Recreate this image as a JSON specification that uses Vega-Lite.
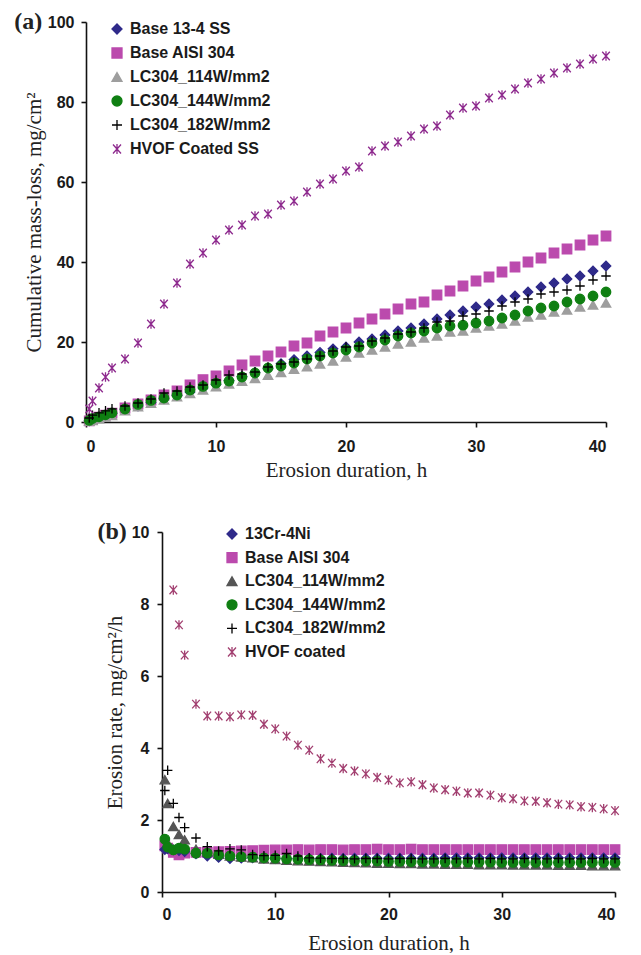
{
 "$schema": "https://vega.github.io/schema/vega-lite/v6.json",
 "background": "white",
 "padding": {"left": 14, "top": 10, "right": 5, "bottom": 0},
 "spacing": 40,
 "resolve": {"scale": {"color": "independent", "stroke": "independent", "shape": "independent", "y": "independent"}, "legend": {"color": "independent", "stroke": "independent", "shape": "independent"}},
 "config": {
  "view": {"stroke": null},
  "axis": {"grid": false, "domainColor": "#111111", "domainWidth": 1.6, "tickColor": "#111111", "tickWidth": 1.6, "tickSize": 5,
   "labelFont": "Liberation Sans", "labelFontWeight": "bold", "labelFontSize": 16, "labelColor": "#1a1a1a",
   "titleFont": "Liberation Serif", "titleFontWeight": "normal", "titleFontSize": 21, "titleColor": "#222222"},
  "legend": {"labelFont": "Liberation Sans", "labelFontWeight": "bold", "labelFontSize": 16, "labelColor": "#1a1a1a", "padding": 0, "symbolStrokeWidth": 1.3, "symbolSize": 100, "labelOffset": 5, "symbolOpacity": 1}
 },
 "datasets": {
  "top": [
   {"t":0.25,"v":0.3,"s":"Base AISI 304"},{"t":0.5,"v":0.6,"s":"Base AISI 304"},{"t":1,"v":1.2,"s":"Base AISI 304"},{"t":1.5,"v":1.7,"s":"Base AISI 304"},{"t":2,"v":2.2,"s":"Base AISI 304"},{"t":3,"v":3.5,"s":"Base AISI 304"},{"t":4,"v":4.5,"s":"Base AISI 304"},{"t":5,"v":5.5,"s":"Base AISI 304"},{"t":6,"v":6.75,"s":"Base AISI 304"},{"t":7,"v":7.75,"s":"Base AISI 304"},{"t":8,"v":9.3,"s":"Base AISI 304"},{"t":9,"v":10.6,"s":"Base AISI 304"},{"t":10,"v":11.5,"s":"Base AISI 304"},{"t":11,"v":12.75,"s":"Base AISI 304"},{"t":12,"v":14.25,"s":"Base AISI 304"},{"t":13,"v":15.25,"s":"Base AISI 304"},{"t":14,"v":16.5,"s":"Base AISI 304"},{"t":15,"v":17.5,"s":"Base AISI 304"},{"t":16,"v":19,"s":"Base AISI 304"},{"t":17,"v":19.75,"s":"Base AISI 304"},{"t":18,"v":21.5,"s":"Base AISI 304"},{"t":19,"v":22.5,"s":"Base AISI 304"},{"t":20,"v":23.5,"s":"Base AISI 304"},{"t":21,"v":24.75,"s":"Base AISI 304"},{"t":22,"v":25.75,"s":"Base AISI 304"},{"t":23,"v":27,"s":"Base AISI 304"},{"t":24,"v":28.25,"s":"Base AISI 304"},{"t":25,"v":29.5,"s":"Base AISI 304"},{"t":26,"v":30,"s":"Base AISI 304"},{"t":27,"v":31.75,"s":"Base AISI 304"},{"t":28,"v":32.75,"s":"Base AISI 304"},{"t":29,"v":34,"s":"Base AISI 304"},{"t":30,"v":35.25,"s":"Base AISI 304"},{"t":31,"v":36.25,"s":"Base AISI 304"},{"t":32,"v":37.5,"s":"Base AISI 304"},{"t":33,"v":38.75,"s":"Base AISI 304"},{"t":34,"v":40,"s":"Base AISI 304"},{"t":35,"v":41,"s":"Base AISI 304"},{"t":36,"v":42.25,"s":"Base AISI 304"},{"t":37,"v":43.25,"s":"Base AISI 304"},{"t":38,"v":44.25,"s":"Base AISI 304"},{"t":39,"v":45.5,"s":"Base AISI 304"},{"t":40,"v":46.5,"s":"Base AISI 304"},
   {"t":0.25,"v":0.3,"s":"Base 13-4 SS"},{"t":0.5,"v":0.6,"s":"Base 13-4 SS"},{"t":1,"v":1.1,"s":"Base 13-4 SS"},{"t":1.5,"v":1.6,"s":"Base 13-4 SS"},{"t":2,"v":2.1,"s":"Base 13-4 SS"},{"t":3,"v":3.2,"s":"Base 13-4 SS"},{"t":4,"v":4.0,"s":"Base 13-4 SS"},{"t":5,"v":4.9,"s":"Base 13-4 SS"},{"t":6,"v":5.8,"s":"Base 13-4 SS"},{"t":7,"v":6.6,"s":"Base 13-4 SS"},{"t":8,"v":7.5,"s":"Base 13-4 SS"},{"t":9,"v":8.5,"s":"Base 13-4 SS"},{"t":10,"v":9.4,"s":"Base 13-4 SS"},{"t":11,"v":10.4,"s":"Base 13-4 SS"},{"t":12,"v":11.4,"s":"Base 13-4 SS"},{"t":13,"v":12.4,"s":"Base 13-4 SS"},{"t":14,"v":13.3,"s":"Base 13-4 SS"},{"t":15,"v":14.6,"s":"Base 13-4 SS"},{"t":16,"v":15.6,"s":"Base 13-4 SS"},{"t":17,"v":16.5,"s":"Base 13-4 SS"},{"t":18,"v":17.4,"s":"Base 13-4 SS"},{"t":19,"v":18.3,"s":"Base 13-4 SS"},{"t":20,"v":18.75,"s":"Base 13-4 SS"},{"t":21,"v":20,"s":"Base 13-4 SS"},{"t":22,"v":20.75,"s":"Base 13-4 SS"},{"t":23,"v":21.75,"s":"Base 13-4 SS"},{"t":24,"v":22.75,"s":"Base 13-4 SS"},{"t":25,"v":23.5,"s":"Base 13-4 SS"},{"t":26,"v":24.5,"s":"Base 13-4 SS"},{"t":27,"v":25.75,"s":"Base 13-4 SS"},{"t":28,"v":26.75,"s":"Base 13-4 SS"},{"t":29,"v":27.75,"s":"Base 13-4 SS"},{"t":30,"v":28.75,"s":"Base 13-4 SS"},{"t":31,"v":29.5,"s":"Base 13-4 SS"},{"t":32,"v":30.5,"s":"Base 13-4 SS"},{"t":33,"v":31.5,"s":"Base 13-4 SS"},{"t":34,"v":32.5,"s":"Base 13-4 SS"},{"t":35,"v":33.75,"s":"Base 13-4 SS"},{"t":36,"v":34.75,"s":"Base 13-4 SS"},{"t":37,"v":35.75,"s":"Base 13-4 SS"},{"t":38,"v":36.5,"s":"Base 13-4 SS"},{"t":39,"v":37.75,"s":"Base 13-4 SS"},{"t":40,"v":39,"s":"Base 13-4 SS"},
   {"t":0.25,"v":0.2,"s":"LC304_114W/mm2"},{"t":0.5,"v":0.4,"s":"LC304_114W/mm2"},{"t":1,"v":0.8,"s":"LC304_114W/mm2"},{"t":1.5,"v":1.2,"s":"LC304_114W/mm2"},{"t":2,"v":1.6,"s":"LC304_114W/mm2"},{"t":3,"v":2.8,"s":"LC304_114W/mm2"},{"t":4,"v":3.8,"s":"LC304_114W/mm2"},{"t":5,"v":4.7,"s":"LC304_114W/mm2"},{"t":6,"v":5.5,"s":"LC304_114W/mm2"},{"t":7,"v":6.3,"s":"LC304_114W/mm2"},{"t":8,"v":7.1,"s":"LC304_114W/mm2"},{"t":9,"v":8.0,"s":"LC304_114W/mm2"},{"t":10,"v":8.8,"s":"LC304_114W/mm2"},{"t":11,"v":9.5,"s":"LC304_114W/mm2"},{"t":12,"v":10.2,"s":"LC304_114W/mm2"},{"t":13,"v":10.9,"s":"LC304_114W/mm2"},{"t":14,"v":11.7,"s":"LC304_114W/mm2"},{"t":15,"v":12.4,"s":"LC304_114W/mm2"},{"t":16,"v":13.2,"s":"LC304_114W/mm2"},{"t":17,"v":13.8,"s":"LC304_114W/mm2"},{"t":18,"v":14.5,"s":"LC304_114W/mm2"},{"t":19,"v":15.25,"s":"LC304_114W/mm2"},{"t":20,"v":16.25,"s":"LC304_114W/mm2"},{"t":21,"v":17.25,"s":"LC304_114W/mm2"},{"t":22,"v":18,"s":"LC304_114W/mm2"},{"t":23,"v":18.75,"s":"LC304_114W/mm2"},{"t":24,"v":19.5,"s":"LC304_114W/mm2"},{"t":25,"v":20,"s":"LC304_114W/mm2"},{"t":26,"v":21,"s":"LC304_114W/mm2"},{"t":27,"v":21.5,"s":"LC304_114W/mm2"},{"t":28,"v":22.5,"s":"LC304_114W/mm2"},{"t":29,"v":22.75,"s":"LC304_114W/mm2"},{"t":30,"v":23.5,"s":"LC304_114W/mm2"},{"t":31,"v":24,"s":"LC304_114W/mm2"},{"t":32,"v":24.5,"s":"LC304_114W/mm2"},{"t":33,"v":25.25,"s":"LC304_114W/mm2"},{"t":34,"v":26.25,"s":"LC304_114W/mm2"},{"t":35,"v":26.75,"s":"LC304_114W/mm2"},{"t":36,"v":27.5,"s":"LC304_114W/mm2"},{"t":37,"v":28,"s":"LC304_114W/mm2"},{"t":38,"v":28.75,"s":"LC304_114W/mm2"},{"t":39,"v":29.25,"s":"LC304_114W/mm2"},{"t":40,"v":29.75,"s":"LC304_114W/mm2"},
   {"t":0.25,"v":0.4,"s":"LC304_144W/mm2"},{"t":0.5,"v":0.9,"s":"LC304_144W/mm2"},{"t":1,"v":1.3,"s":"LC304_144W/mm2"},{"t":1.5,"v":1.8,"s":"LC304_144W/mm2"},{"t":2,"v":2.3,"s":"LC304_144W/mm2"},{"t":3,"v":3.25,"s":"LC304_144W/mm2"},{"t":4,"v":4.4,"s":"LC304_144W/mm2"},{"t":5,"v":5.4,"s":"LC304_144W/mm2"},{"t":6,"v":6.0,"s":"LC304_144W/mm2"},{"t":7,"v":6.75,"s":"LC304_144W/mm2"},{"t":8,"v":8.0,"s":"LC304_144W/mm2"},{"t":9,"v":8.9,"s":"LC304_144W/mm2"},{"t":10,"v":9.7,"s":"LC304_144W/mm2"},{"t":11,"v":10.25,"s":"LC304_144W/mm2"},{"t":12,"v":11.25,"s":"LC304_144W/mm2"},{"t":13,"v":12.25,"s":"LC304_144W/mm2"},{"t":14,"v":13.5,"s":"LC304_144W/mm2"},{"t":15,"v":14.0,"s":"LC304_144W/mm2"},{"t":16,"v":14.75,"s":"LC304_144W/mm2"},{"t":17,"v":15.75,"s":"LC304_144W/mm2"},{"t":18,"v":16.5,"s":"LC304_144W/mm2"},{"t":19,"v":17.25,"s":"LC304_144W/mm2"},{"t":20,"v":18,"s":"LC304_144W/mm2"},{"t":21,"v":18.75,"s":"LC304_144W/mm2"},{"t":22,"v":19.75,"s":"LC304_144W/mm2"},{"t":23,"v":20.5,"s":"LC304_144W/mm2"},{"t":24,"v":21.5,"s":"LC304_144W/mm2"},{"t":25,"v":22.25,"s":"LC304_144W/mm2"},{"t":26,"v":22.75,"s":"LC304_144W/mm2"},{"t":27,"v":23.5,"s":"LC304_144W/mm2"},{"t":28,"v":24,"s":"LC304_144W/mm2"},{"t":29,"v":24.2,"s":"LC304_144W/mm2"},{"t":30,"v":24.75,"s":"LC304_144W/mm2"},{"t":31,"v":25.25,"s":"LC304_144W/mm2"},{"t":32,"v":26,"s":"LC304_144W/mm2"},{"t":33,"v":26.75,"s":"LC304_144W/mm2"},{"t":34,"v":27.75,"s":"LC304_144W/mm2"},{"t":35,"v":28.5,"s":"LC304_144W/mm2"},{"t":36,"v":29,"s":"LC304_144W/mm2"},{"t":37,"v":30,"s":"LC304_144W/mm2"},{"t":38,"v":30.75,"s":"LC304_144W/mm2"},{"t":39,"v":31.5,"s":"LC304_144W/mm2"},{"t":40,"v":32.5,"s":"LC304_144W/mm2"},
   {"t":0.25,"v":1.0,"s":"LC304_182W/mm2"},{"t":0.5,"v":1.7,"s":"LC304_182W/mm2"},{"t":1,"v":2.3,"s":"LC304_182W/mm2"},{"t":1.5,"v":2.8,"s":"LC304_182W/mm2"},{"t":2,"v":3.3,"s":"LC304_182W/mm2"},{"t":3,"v":4.0,"s":"LC304_182W/mm2"},{"t":4,"v":4.75,"s":"LC304_182W/mm2"},{"t":5,"v":5.75,"s":"LC304_182W/mm2"},{"t":6,"v":7.25,"s":"LC304_182W/mm2"},{"t":7,"v":7.75,"s":"LC304_182W/mm2"},{"t":8,"v":8.75,"s":"LC304_182W/mm2"},{"t":9,"v":9.25,"s":"LC304_182W/mm2"},{"t":10,"v":10.5,"s":"LC304_182W/mm2"},{"t":11,"v":11.75,"s":"LC304_182W/mm2"},{"t":12,"v":12,"s":"LC304_182W/mm2"},{"t":13,"v":12.5,"s":"LC304_182W/mm2"},{"t":14,"v":13.75,"s":"LC304_182W/mm2"},{"t":15,"v":14.5,"s":"LC304_182W/mm2"},{"t":16,"v":15,"s":"LC304_182W/mm2"},{"t":17,"v":15.75,"s":"LC304_182W/mm2"},{"t":18,"v":16.5,"s":"LC304_182W/mm2"},{"t":19,"v":17.75,"s":"LC304_182W/mm2"},{"t":20,"v":18.75,"s":"LC304_182W/mm2"},{"t":21,"v":19,"s":"LC304_182W/mm2"},{"t":22,"v":20.25,"s":"LC304_182W/mm2"},{"t":23,"v":21,"s":"LC304_182W/mm2"},{"t":24,"v":22,"s":"LC304_182W/mm2"},{"t":25,"v":22.5,"s":"LC304_182W/mm2"},{"t":26,"v":23.5,"s":"LC304_182W/mm2"},{"t":27,"v":25,"s":"LC304_182W/mm2"},{"t":28,"v":25.25,"s":"LC304_182W/mm2"},{"t":29,"v":26.5,"s":"LC304_182W/mm2"},{"t":30,"v":27,"s":"LC304_182W/mm2"},{"t":31,"v":27.75,"s":"LC304_182W/mm2"},{"t":32,"v":29,"s":"LC304_182W/mm2"},{"t":33,"v":30,"s":"LC304_182W/mm2"},{"t":34,"v":30.75,"s":"LC304_182W/mm2"},{"t":35,"v":32,"s":"LC304_182W/mm2"},{"t":36,"v":32.5,"s":"LC304_182W/mm2"},{"t":37,"v":33,"s":"LC304_182W/mm2"},{"t":38,"v":34,"s":"LC304_182W/mm2"},{"t":39,"v":35.5,"s":"LC304_182W/mm2"},{"t":40,"v":36.5,"s":"LC304_182W/mm2"},
   {"t":0.25,"v":3.25,"s":"HVOF Coated SS"},{"t":0.5,"v":5.25,"s":"HVOF Coated SS"},{"t":1,"v":8.5,"s":"HVOF Coated SS"},{"t":1.5,"v":11.25,"s":"HVOF Coated SS"},{"t":2,"v":13.5,"s":"HVOF Coated SS"},{"t":3,"v":15.75,"s":"HVOF Coated SS"},{"t":4,"v":19.75,"s":"HVOF Coated SS"},{"t":5,"v":24.5,"s":"HVOF Coated SS"},{"t":6,"v":29.5,"s":"HVOF Coated SS"},{"t":7,"v":34.75,"s":"HVOF Coated SS"},{"t":8,"v":39.5,"s":"HVOF Coated SS"},{"t":9,"v":42.25,"s":"HVOF Coated SS"},{"t":10,"v":45.5,"s":"HVOF Coated SS"},{"t":11,"v":48,"s":"HVOF Coated SS"},{"t":12,"v":49.25,"s":"HVOF Coated SS"},{"t":13,"v":51.5,"s":"HVOF Coated SS"},{"t":14,"v":52,"s":"HVOF Coated SS"},{"t":15,"v":54.25,"s":"HVOF Coated SS"},{"t":16,"v":55.25,"s":"HVOF Coated SS"},{"t":17,"v":57.5,"s":"HVOF Coated SS"},{"t":18,"v":59.5,"s":"HVOF Coated SS"},{"t":19,"v":60.75,"s":"HVOF Coated SS"},{"t":20,"v":62.75,"s":"HVOF Coated SS"},{"t":21,"v":63.75,"s":"HVOF Coated SS"},{"t":22,"v":67.75,"s":"HVOF Coated SS"},{"t":23,"v":69,"s":"HVOF Coated SS"},{"t":24,"v":70,"s":"HVOF Coated SS"},{"t":25,"v":71.5,"s":"HVOF Coated SS"},{"t":26,"v":73.25,"s":"HVOF Coated SS"},{"t":27,"v":74,"s":"HVOF Coated SS"},{"t":28,"v":76.75,"s":"HVOF Coated SS"},{"t":29,"v":78.5,"s":"HVOF Coated SS"},{"t":30,"v":79,"s":"HVOF Coated SS"},{"t":31,"v":81,"s":"HVOF Coated SS"},{"t":32,"v":81.75,"s":"HVOF Coated SS"},{"t":33,"v":83.25,"s":"HVOF Coated SS"},{"t":34,"v":84.75,"s":"HVOF Coated SS"},{"t":35,"v":85.75,"s":"HVOF Coated SS"},{"t":36,"v":87.25,"s":"HVOF Coated SS"},{"t":37,"v":88.5,"s":"HVOF Coated SS"},{"t":38,"v":89.5,"s":"HVOF Coated SS"},{"t":39,"v":90.75,"s":"HVOF Coated SS"},{"t":40,"v":91.5,"s":"HVOF Coated SS"}
  ],
  "bottom": [
   {"t":0.25,"v":1.28,"s":"Base AISI 304"},{"t":0.5,"v":1.22,"s":"Base AISI 304"},{"t":1,"v":1.1,"s":"Base AISI 304"},{"t":1.5,"v":1.03,"s":"Base AISI 304"},{"t":2,"v":1.08,"s":"Base AISI 304"},{"t":3,"v":1.1,"s":"Base AISI 304"},{"t":4,"v":1.1,"s":"Base AISI 304"},{"t":5,"v":1.12,"s":"Base AISI 304"},{"t":6,"v":1.13,"s":"Base AISI 304"},{"t":7,"v":1.14,"s":"Base AISI 304"},{"t":8,"v":1.15,"s":"Base AISI 304"},{"t":9,"v":1.16,"s":"Base AISI 304"},{"t":10,"v":1.17,"s":"Base AISI 304"},{"t":11,"v":1.17,"s":"Base AISI 304"},{"t":12,"v":1.18,"s":"Base AISI 304"},{"t":13,"v":1.17,"s":"Base AISI 304"},{"t":14,"v":1.18,"s":"Base AISI 304"},{"t":15,"v":1.18,"s":"Base AISI 304"},{"t":16,"v":1.17,"s":"Base AISI 304"},{"t":17,"v":1.18,"s":"Base AISI 304"},{"t":18,"v":1.18,"s":"Base AISI 304"},{"t":19,"v":1.19,"s":"Base AISI 304"},{"t":20,"v":1.18,"s":"Base AISI 304"},{"t":21,"v":1.18,"s":"Base AISI 304"},{"t":22,"v":1.19,"s":"Base AISI 304"},{"t":23,"v":1.18,"s":"Base AISI 304"},{"t":24,"v":1.18,"s":"Base AISI 304"},{"t":25,"v":1.18,"s":"Base AISI 304"},{"t":26,"v":1.18,"s":"Base AISI 304"},{"t":27,"v":1.18,"s":"Base AISI 304"},{"t":28,"v":1.18,"s":"Base AISI 304"},{"t":29,"v":1.18,"s":"Base AISI 304"},{"t":30,"v":1.18,"s":"Base AISI 304"},{"t":31,"v":1.18,"s":"Base AISI 304"},{"t":32,"v":1.18,"s":"Base AISI 304"},{"t":33,"v":1.18,"s":"Base AISI 304"},{"t":34,"v":1.18,"s":"Base AISI 304"},{"t":35,"v":1.18,"s":"Base AISI 304"},{"t":36,"v":1.18,"s":"Base AISI 304"},{"t":37,"v":1.18,"s":"Base AISI 304"},{"t":38,"v":1.18,"s":"Base AISI 304"},{"t":39,"v":1.18,"s":"Base AISI 304"},{"t":40,"v":1.18,"s":"Base AISI 304"},
   {"t":0.25,"v":1.18,"s":"13Cr-4Ni"},{"t":0.5,"v":1.2,"s":"13Cr-4Ni"},{"t":1,"v":1.17,"s":"13Cr-4Ni"},{"t":1.5,"v":1.15,"s":"13Cr-4Ni"},{"t":2,"v":1.12,"s":"13Cr-4Ni"},{"t":3,"v":1.06,"s":"13Cr-4Ni"},{"t":4,"v":1.0,"s":"13Cr-4Ni"},{"t":5,"v":0.96,"s":"13Cr-4Ni"},{"t":6,"v":0.93,"s":"13Cr-4Ni"},{"t":7,"v":0.94,"s":"13Cr-4Ni"},{"t":8,"v":0.95,"s":"13Cr-4Ni"},{"t":9,"v":0.94,"s":"13Cr-4Ni"},{"t":10,"v":0.93,"s":"13Cr-4Ni"},{"t":11,"v":0.93,"s":"13Cr-4Ni"},{"t":12,"v":0.93,"s":"13Cr-4Ni"},{"t":13,"v":0.93,"s":"13Cr-4Ni"},{"t":14,"v":0.93,"s":"13Cr-4Ni"},{"t":15,"v":0.94,"s":"13Cr-4Ni"},{"t":16,"v":0.93,"s":"13Cr-4Ni"},{"t":17,"v":0.94,"s":"13Cr-4Ni"},{"t":18,"v":0.94,"s":"13Cr-4Ni"},{"t":19,"v":0.94,"s":"13Cr-4Ni"},{"t":20,"v":0.94,"s":"13Cr-4Ni"},{"t":21,"v":0.94,"s":"13Cr-4Ni"},{"t":22,"v":0.94,"s":"13Cr-4Ni"},{"t":23,"v":0.94,"s":"13Cr-4Ni"},{"t":24,"v":0.94,"s":"13Cr-4Ni"},{"t":25,"v":0.95,"s":"13Cr-4Ni"},{"t":26,"v":0.95,"s":"13Cr-4Ni"},{"t":27,"v":0.95,"s":"13Cr-4Ni"},{"t":28,"v":0.95,"s":"13Cr-4Ni"},{"t":29,"v":0.95,"s":"13Cr-4Ni"},{"t":30,"v":0.95,"s":"13Cr-4Ni"},{"t":31,"v":0.95,"s":"13Cr-4Ni"},{"t":32,"v":0.95,"s":"13Cr-4Ni"},{"t":33,"v":0.95,"s":"13Cr-4Ni"},{"t":34,"v":0.95,"s":"13Cr-4Ni"},{"t":35,"v":0.95,"s":"13Cr-4Ni"},{"t":36,"v":0.95,"s":"13Cr-4Ni"},{"t":37,"v":0.95,"s":"13Cr-4Ni"},{"t":38,"v":0.95,"s":"13Cr-4Ni"},{"t":39,"v":0.95,"s":"13Cr-4Ni"},{"t":40,"v":0.95,"s":"13Cr-4Ni"},
   {"t":0.25,"v":3.12,"s":"LC304_114W/mm2"},{"t":0.5,"v":2.46,"s":"LC304_114W/mm2"},{"t":1,"v":1.82,"s":"LC304_114W/mm2"},{"t":1.5,"v":1.6,"s":"LC304_114W/mm2"},{"t":2,"v":1.45,"s":"LC304_114W/mm2"},{"t":3,"v":1.19,"s":"LC304_114W/mm2"},{"t":4,"v":1.12,"s":"LC304_114W/mm2"},{"t":5,"v":1.05,"s":"LC304_114W/mm2"},{"t":6,"v":1.0,"s":"LC304_114W/mm2"},{"t":7,"v":0.97,"s":"LC304_114W/mm2"},{"t":8,"v":0.95,"s":"LC304_114W/mm2"},{"t":9,"v":0.92,"s":"LC304_114W/mm2"},{"t":10,"v":0.9,"s":"LC304_114W/mm2"},{"t":11,"v":0.88,"s":"LC304_114W/mm2"},{"t":12,"v":0.87,"s":"LC304_114W/mm2"},{"t":13,"v":0.86,"s":"LC304_114W/mm2"},{"t":14,"v":0.85,"s":"LC304_114W/mm2"},{"t":15,"v":0.84,"s":"LC304_114W/mm2"},{"t":16,"v":0.83,"s":"LC304_114W/mm2"},{"t":17,"v":0.82,"s":"LC304_114W/mm2"},{"t":18,"v":0.81,"s":"LC304_114W/mm2"},{"t":19,"v":0.8,"s":"LC304_114W/mm2"},{"t":20,"v":0.8,"s":"LC304_114W/mm2"},{"t":21,"v":0.79,"s":"LC304_114W/mm2"},{"t":22,"v":0.79,"s":"LC304_114W/mm2"},{"t":23,"v":0.78,"s":"LC304_114W/mm2"},{"t":24,"v":0.78,"s":"LC304_114W/mm2"},{"t":25,"v":0.77,"s":"LC304_114W/mm2"},{"t":26,"v":0.77,"s":"LC304_114W/mm2"},{"t":27,"v":0.77,"s":"LC304_114W/mm2"},{"t":28,"v":0.76,"s":"LC304_114W/mm2"},{"t":29,"v":0.76,"s":"LC304_114W/mm2"},{"t":30,"v":0.76,"s":"LC304_114W/mm2"},{"t":31,"v":0.75,"s":"LC304_114W/mm2"},{"t":32,"v":0.75,"s":"LC304_114W/mm2"},{"t":33,"v":0.75,"s":"LC304_114W/mm2"},{"t":34,"v":0.75,"s":"LC304_114W/mm2"},{"t":35,"v":0.74,"s":"LC304_114W/mm2"},{"t":36,"v":0.74,"s":"LC304_114W/mm2"},{"t":37,"v":0.74,"s":"LC304_114W/mm2"},{"t":38,"v":0.73,"s":"LC304_114W/mm2"},{"t":39,"v":0.73,"s":"LC304_114W/mm2"},{"t":40,"v":0.73,"s":"LC304_114W/mm2"},
   {"t":0.25,"v":1.47,"s":"LC304_144W/mm2"},{"t":0.5,"v":1.25,"s":"LC304_144W/mm2"},{"t":1,"v":1.17,"s":"LC304_144W/mm2"},{"t":1.5,"v":1.22,"s":"LC304_144W/mm2"},{"t":2,"v":1.19,"s":"LC304_144W/mm2"},{"t":3,"v":1.08,"s":"LC304_144W/mm2"},{"t":4,"v":1.08,"s":"LC304_144W/mm2"},{"t":5,"v":1.03,"s":"LC304_144W/mm2"},{"t":6,"v":1.0,"s":"LC304_144W/mm2"},{"t":7,"v":0.98,"s":"LC304_144W/mm2"},{"t":8,"v":0.97,"s":"LC304_144W/mm2"},{"t":9,"v":0.95,"s":"LC304_144W/mm2"},{"t":10,"v":0.94,"s":"LC304_144W/mm2"},{"t":11,"v":0.92,"s":"LC304_144W/mm2"},{"t":12,"v":0.91,"s":"LC304_144W/mm2"},{"t":13,"v":0.9,"s":"LC304_144W/mm2"},{"t":14,"v":0.89,"s":"LC304_144W/mm2"},{"t":15,"v":0.88,"s":"LC304_144W/mm2"},{"t":16,"v":0.87,"s":"LC304_144W/mm2"},{"t":17,"v":0.87,"s":"LC304_144W/mm2"},{"t":18,"v":0.86,"s":"LC304_144W/mm2"},{"t":19,"v":0.86,"s":"LC304_144W/mm2"},{"t":20,"v":0.85,"s":"LC304_144W/mm2"},{"t":21,"v":0.85,"s":"LC304_144W/mm2"},{"t":22,"v":0.84,"s":"LC304_144W/mm2"},{"t":23,"v":0.84,"s":"LC304_144W/mm2"},{"t":24,"v":0.84,"s":"LC304_144W/mm2"},{"t":25,"v":0.83,"s":"LC304_144W/mm2"},{"t":26,"v":0.83,"s":"LC304_144W/mm2"},{"t":27,"v":0.83,"s":"LC304_144W/mm2"},{"t":28,"v":0.83,"s":"LC304_144W/mm2"},{"t":29,"v":0.83,"s":"LC304_144W/mm2"},{"t":30,"v":0.82,"s":"LC304_144W/mm2"},{"t":31,"v":0.82,"s":"LC304_144W/mm2"},{"t":32,"v":0.82,"s":"LC304_144W/mm2"},{"t":33,"v":0.82,"s":"LC304_144W/mm2"},{"t":34,"v":0.82,"s":"LC304_144W/mm2"},{"t":35,"v":0.82,"s":"LC304_144W/mm2"},{"t":36,"v":0.82,"s":"LC304_144W/mm2"},{"t":37,"v":0.82,"s":"LC304_144W/mm2"},{"t":38,"v":0.82,"s":"LC304_144W/mm2"},{"t":39,"v":0.82,"s":"LC304_144W/mm2"},{"t":40,"v":0.82,"s":"LC304_144W/mm2"},
   {"t":0.25,"v":2.82,"s":"LC304_182W/mm2"},{"t":0.5,"v":3.38,"s":"LC304_182W/mm2"},{"t":1,"v":2.46,"s":"LC304_182W/mm2"},{"t":1.5,"v":2.07,"s":"LC304_182W/mm2"},{"t":2,"v":1.79,"s":"LC304_182W/mm2"},{"t":3,"v":1.5,"s":"LC304_182W/mm2"},{"t":4,"v":1.26,"s":"LC304_182W/mm2"},{"t":5,"v":1.14,"s":"LC304_182W/mm2"},{"t":6,"v":1.2,"s":"LC304_182W/mm2"},{"t":7,"v":1.17,"s":"LC304_182W/mm2"},{"t":8,"v":1.04,"s":"LC304_182W/mm2"},{"t":9,"v":1.01,"s":"LC304_182W/mm2"},{"t":10,"v":1.02,"s":"LC304_182W/mm2"},{"t":11,"v":1.07,"s":"LC304_182W/mm2"},{"t":12,"v":1.0,"s":"LC304_182W/mm2"},{"t":13,"v":0.95,"s":"LC304_182W/mm2"},{"t":14,"v":0.94,"s":"LC304_182W/mm2"},{"t":15,"v":0.93,"s":"LC304_182W/mm2"},{"t":16,"v":0.93,"s":"LC304_182W/mm2"},{"t":17,"v":0.92,"s":"LC304_182W/mm2"},{"t":18,"v":0.93,"s":"LC304_182W/mm2"},{"t":19,"v":0.93,"s":"LC304_182W/mm2"},{"t":20,"v":0.92,"s":"LC304_182W/mm2"},{"t":21,"v":0.93,"s":"LC304_182W/mm2"},{"t":22,"v":0.93,"s":"LC304_182W/mm2"},{"t":23,"v":0.92,"s":"LC304_182W/mm2"},{"t":24,"v":0.92,"s":"LC304_182W/mm2"},{"t":25,"v":0.93,"s":"LC304_182W/mm2"},{"t":26,"v":0.92,"s":"LC304_182W/mm2"},{"t":27,"v":0.93,"s":"LC304_182W/mm2"},{"t":28,"v":0.92,"s":"LC304_182W/mm2"},{"t":29,"v":0.93,"s":"LC304_182W/mm2"},{"t":30,"v":0.92,"s":"LC304_182W/mm2"},{"t":31,"v":0.92,"s":"LC304_182W/mm2"},{"t":32,"v":0.93,"s":"LC304_182W/mm2"},{"t":33,"v":0.92,"s":"LC304_182W/mm2"},{"t":34,"v":0.92,"s":"LC304_182W/mm2"},{"t":35,"v":0.93,"s":"LC304_182W/mm2"},{"t":36,"v":0.92,"s":"LC304_182W/mm2"},{"t":37,"v":0.92,"s":"LC304_182W/mm2"},{"t":38,"v":0.93,"s":"LC304_182W/mm2"},{"t":39,"v":0.92,"s":"LC304_182W/mm2"},{"t":40,"v":0.92,"s":"LC304_182W/mm2"},
   {"t":1,"v":8.39,"s":"HVOF coated"},{"t":1.5,"v":7.42,"s":"HVOF coated"},{"t":2,"v":6.58,"s":"HVOF coated"},{"t":3,"v":5.22,"s":"HVOF coated"},{"t":4,"v":4.89,"s":"HVOF coated"},{"t":5,"v":4.89,"s":"HVOF coated"},{"t":6,"v":4.87,"s":"HVOF coated"},{"t":7,"v":4.92,"s":"HVOF coated"},{"t":8,"v":4.91,"s":"HVOF coated"},{"t":9,"v":4.66,"s":"HVOF coated"},{"t":10,"v":4.53,"s":"HVOF coated"},{"t":11,"v":4.33,"s":"HVOF coated"},{"t":12,"v":4.08,"s":"HVOF coated"},{"t":13,"v":3.94,"s":"HVOF coated"},{"t":14,"v":3.7,"s":"HVOF coated"},{"t":15,"v":3.58,"s":"HVOF coated"},{"t":16,"v":3.43,"s":"HVOF coated"},{"t":17,"v":3.36,"s":"HVOF coated"},{"t":18,"v":3.28,"s":"HVOF coated"},{"t":19,"v":3.18,"s":"HVOF coated"},{"t":20,"v":3.11,"s":"HVOF coated"},{"t":21,"v":3.03,"s":"HVOF coated"},{"t":22,"v":3.06,"s":"HVOF coated"},{"t":23,"v":2.98,"s":"HVOF coated"},{"t":24,"v":2.89,"s":"HVOF coated"},{"t":25,"v":2.84,"s":"HVOF coated"},{"t":26,"v":2.8,"s":"HVOF coated"},{"t":27,"v":2.75,"s":"HVOF coated"},{"t":28,"v":2.75,"s":"HVOF coated"},{"t":29,"v":2.69,"s":"HVOF coated"},{"t":30,"v":2.62,"s":"HVOF coated"},{"t":31,"v":2.59,"s":"HVOF coated"},{"t":32,"v":2.53,"s":"HVOF coated"},{"t":33,"v":2.52,"s":"HVOF coated"},{"t":34,"v":2.48,"s":"HVOF coated"},{"t":35,"v":2.44,"s":"HVOF coated"},{"t":36,"v":2.42,"s":"HVOF coated"},{"t":37,"v":2.37,"s":"HVOF coated"},{"t":38,"v":2.35,"s":"HVOF coated"},{"t":39,"v":2.31,"s":"HVOF coated"},{"t":40,"v":2.26,"s":"HVOF coated"}
  ]
 },
 "vconcat": [
  {
   "width": 520, "height": 400,
   "data": {"name": "top"},
   "title": {"text": "(a)", "orient": "left", "anchor": "end", "frame": "group", "angle": 0, "align": "right", "baseline": "middle", "offset": -47, "font": "Liberation Serif", "fontSize": 24, "fontWeight": "bold", "color": "#222222"},
   "mark": {"type": "point", "filled": true, "size": 90, "strokeWidth": 1.3, "opacity": 1},
   "encoding": {
    "x": {"field": "t", "type": "quantitative", "scale": {"domain": [0, 40], "nice": false}, "axis": {"values": [0, 10, 20, 30, 40], "title": "Erosion duration, h", "labelPadding": 11, "titlePadding": 5}},
    "y": {"field": "v", "type": "quantitative", "scale": {"domain": [0, 100], "nice": false}, "axis": {"values": [0, 20, 40, 60, 80, 100], "title": "Cumulative mass-loss, mg/cm²", "labelPadding": 7, "titlePadding": 3}},
    "color": {"field": "s", "type": "nominal", "scale": {"domain": ["Base 13-4 SS", "Base AISI 304", "LC304_114W/mm2", "LC304_144W/mm2", "LC304_182W/mm2", "HVOF Coated SS"], "range": ["#2f2a8a", "#bb4aad", "#9e9e9e", "#0f7f12", "#000000", "#8e2a8e"]}, "legend": {"title": null, "orient": "none", "legendX": 23, "legendY": -1, "rowPadding": 8}},
    "stroke": {"field": "s", "type": "nominal", "scale": {"domain": ["Base 13-4 SS", "Base AISI 304", "LC304_114W/mm2", "LC304_144W/mm2", "LC304_182W/mm2", "HVOF Coated SS"], "range": ["#2f2a8a", "#bb4aad", "#9e9e9e", "#0f7f12", "#000000", "#8e2a8e"]}, "legend": {"title": null, "orient": "none", "legendX": 23, "legendY": -1, "rowPadding": 8}},
    "shape": {"field": "s", "type": "nominal", "scale": {"domain": ["Base 13-4 SS", "Base AISI 304", "LC304_114W/mm2", "LC304_144W/mm2", "LC304_182W/mm2", "HVOF Coated SS"], "range": ["diamond", "square", "triangle-up", "circle", "M-1,0L1,0M0,-1L0,1", "M-0.8,-0.9L0.8,0.9M-0.8,0.9L0.8,-0.9M0,-1L0,1"]}, "legend": {"title": null, "orient": "none", "legendX": 23, "legendY": -1, "rowPadding": 8}}
   }
  },
  {
   "resolve": {"scale": {"color": "independent", "stroke": "independent", "shape": "independent"}, "legend": {"color": "independent", "stroke": "independent", "shape": "independent"}},
   "hconcat": [
    {"width": 1, "height": 360, "data": {"values": []}, "mark": "point", "encoding": {}},
    {
     "width": 453, "height": 360,
     "data": {"name": "bottom"},
     "title": {"text": "(b)", "orient": "left", "anchor": "end", "frame": "group", "angle": 0, "align": "right", "baseline": "middle", "offset": -52, "font": "Liberation Serif", "fontSize": 24, "fontWeight": "bold", "color": "#222222"},
     "mark": {"type": "point", "filled": true, "size": 90, "strokeWidth": 1.3, "opacity": 1},
     "encoding": {
      "x": {"field": "t", "type": "quantitative", "scale": {"domain": [0, 40], "nice": false}, "axis": {"values": [0, 10, 20, 30, 40], "title": "Erosion duration, h", "labelPadding": 9, "titlePadding": 10}},
      "y": {"field": "v", "type": "quantitative", "scale": {"domain": [0, 10], "nice": false}, "axis": {"values": [0, 2, 4, 6, 8, 10], "title": "Erosion rate, mg/cm²/h", "labelPadding": 8, "titlePadding": 6}},
      "color": {"field": "s", "type": "nominal", "scale": {"domain": ["13Cr-4Ni", "Base AISI 304", "LC304_114W/mm2", "LC304_144W/mm2", "LC304_182W/mm2", "HVOF coated"], "range": ["#2f2a8a", "#bb4aad", "#555555", "#0f7f12", "#000000", "#a23f70"]}, "legend": {"title": null, "orient": "none", "legendX": 62, "legendY": -6, "rowPadding": 7.6}},
      "stroke": {"field": "s", "type": "nominal", "scale": {"domain": ["13Cr-4Ni", "Base AISI 304", "LC304_114W/mm2", "LC304_144W/mm2", "LC304_182W/mm2", "HVOF coated"], "range": ["#2f2a8a", "#bb4aad", "#555555", "#0f7f12", "#000000", "#a23f70"]}, "legend": {"title": null, "orient": "none", "legendX": 62, "legendY": -6, "rowPadding": 7.6}},
      "shape": {"field": "s", "type": "nominal", "scale": {"domain": ["13Cr-4Ni", "Base AISI 304", "LC304_114W/mm2", "LC304_144W/mm2", "LC304_182W/mm2", "HVOF coated"], "range": ["diamond", "square", "triangle-up", "circle", "M-1,0L1,0M0,-1L0,1", "M-0.8,-0.9L0.8,0.9M-0.8,0.9L0.8,-0.9M0,-1L0,1"]}, "legend": {"title": null, "orient": "none", "legendX": 62, "legendY": -6, "rowPadding": 7.6}}
     }
    }
   ],
   "spacing": 10
  }
 ]
}
